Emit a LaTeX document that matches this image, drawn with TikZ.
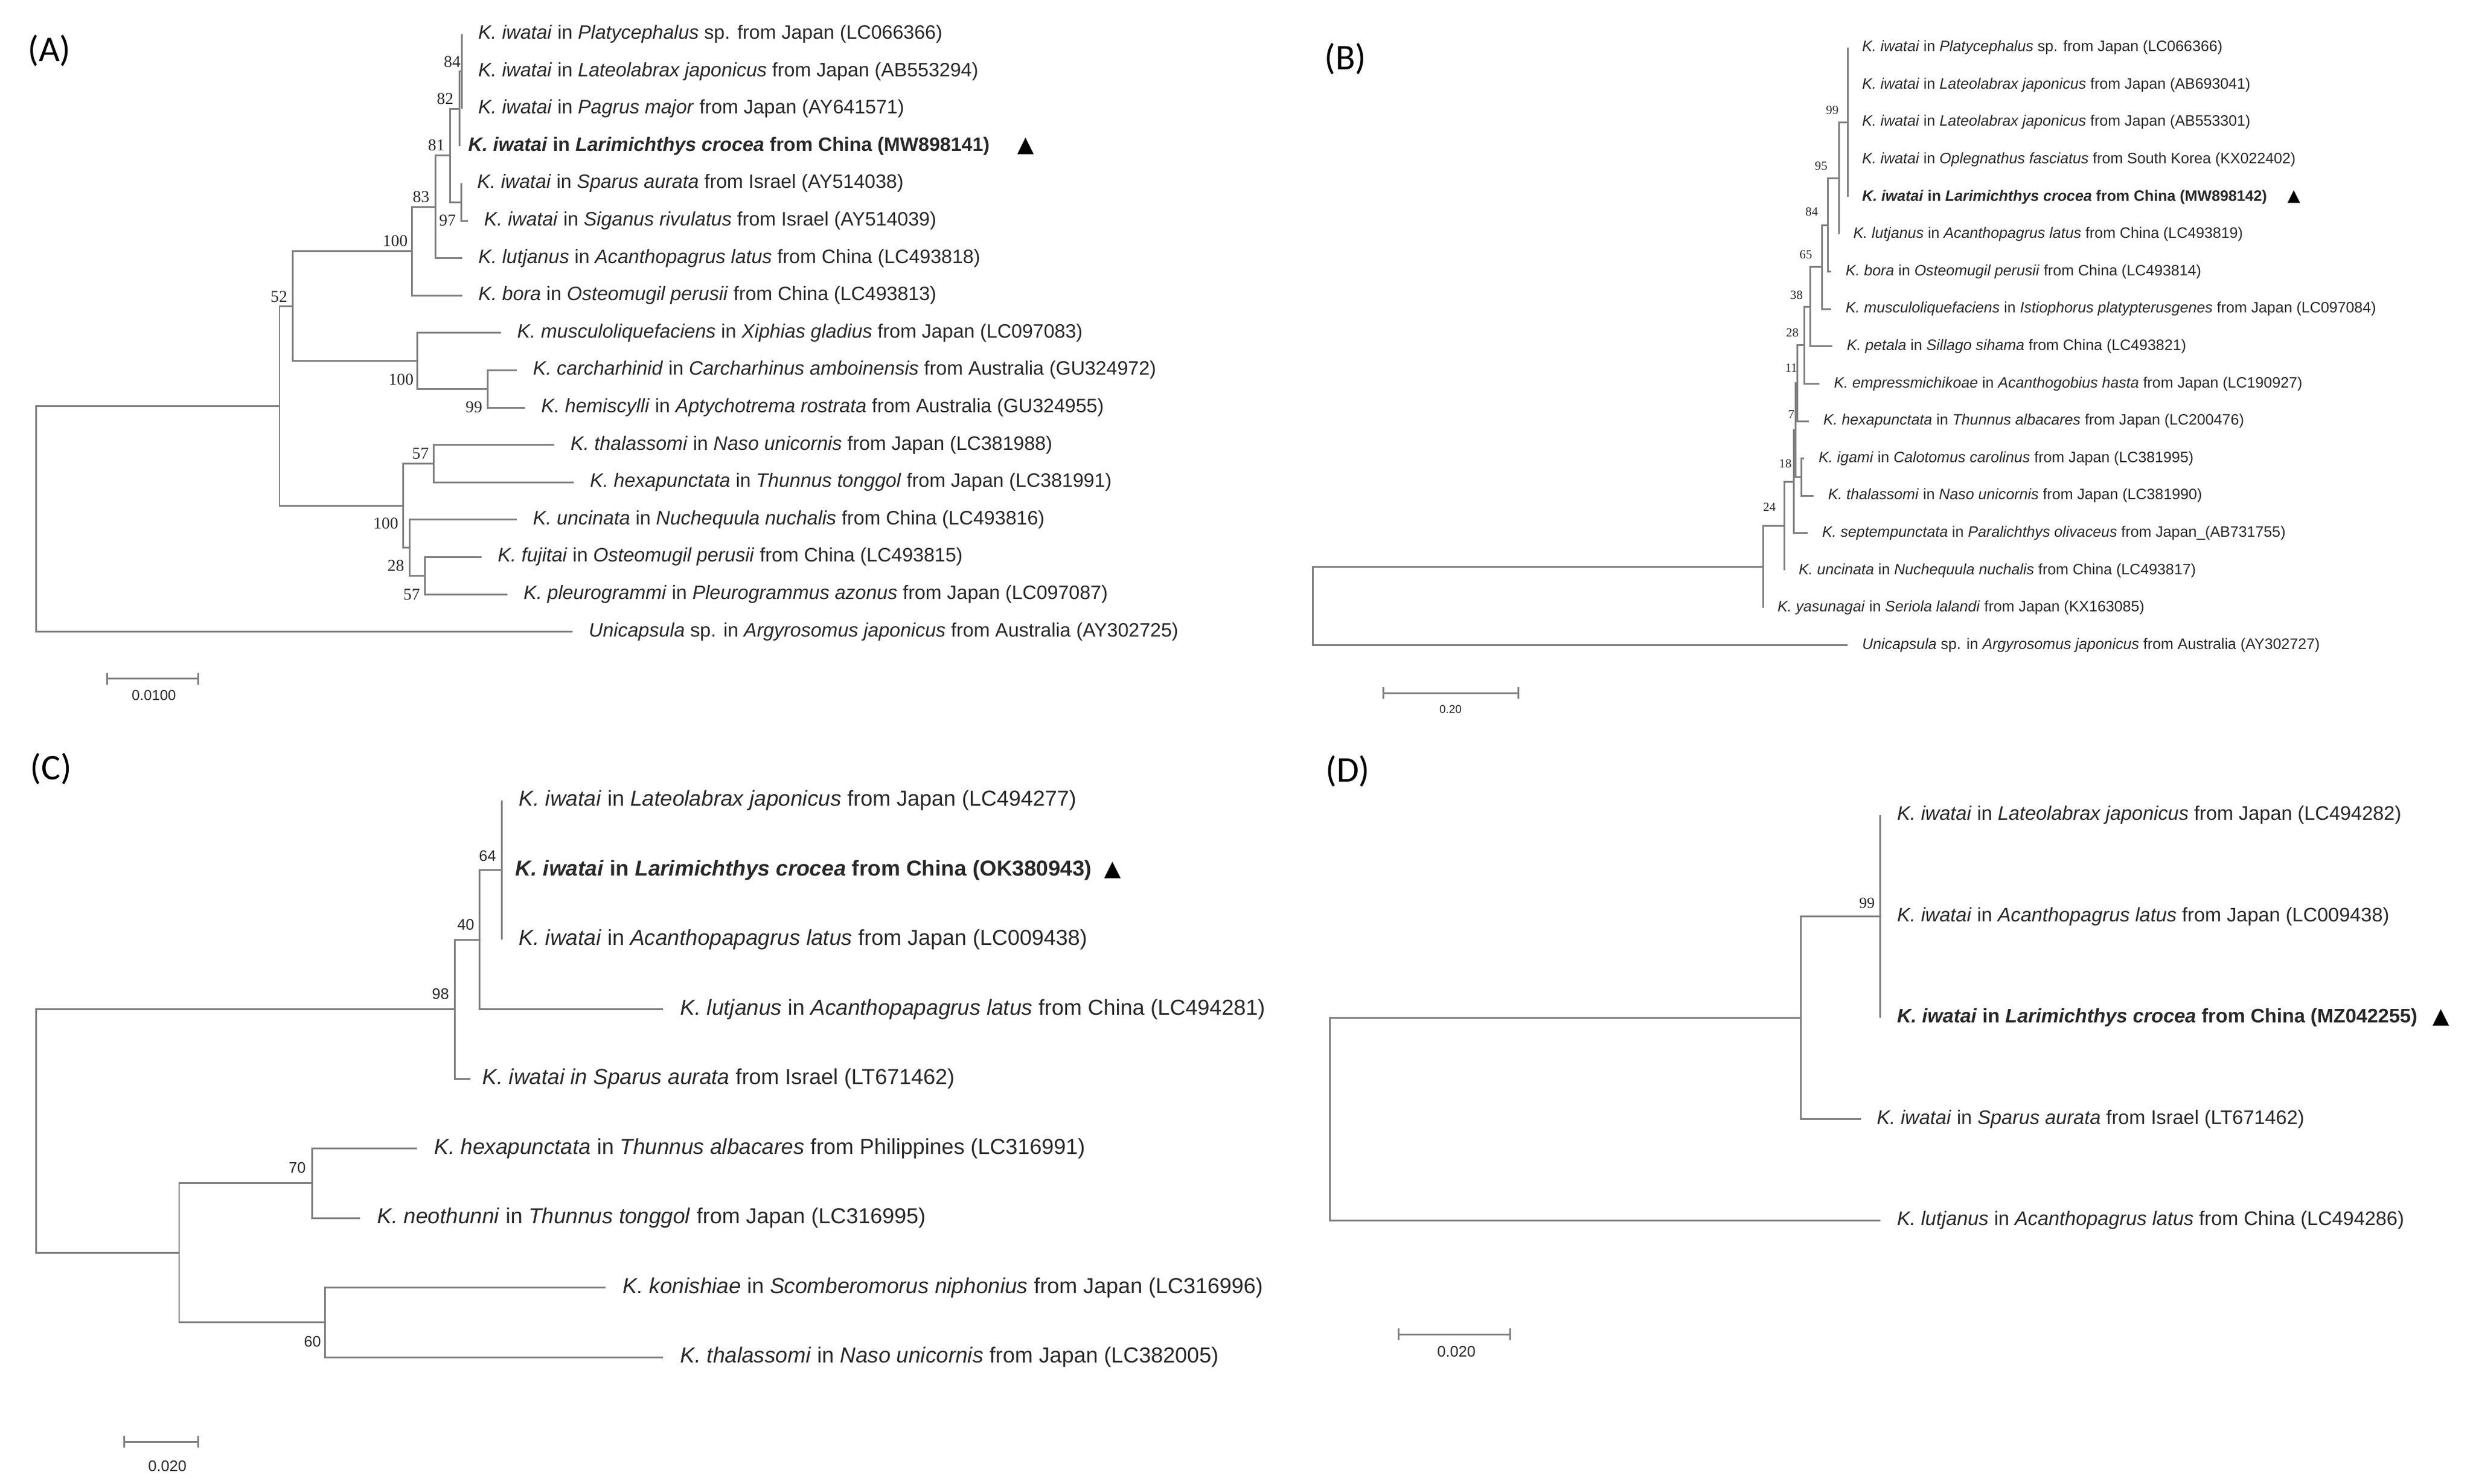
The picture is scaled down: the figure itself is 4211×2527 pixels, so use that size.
\documentclass[tikz,border=0pt]{standalone}
\usepackage{fontspec}
\setsansfont{Liberation Sans}
\newfontfamily\tnr{Liberation Serif}
\newfontfamily\panelfont{Carlito}
\newfontfamily\trifont{DejaVu Sans}
\usetikzlibrary{arrows.meta}
\definecolor{brgray}{RGB}{128,128,128}
\definecolor{txt}{RGB}{40,40,40}
\tikzset{
  br/.style={draw=brgray, line width=0.85pt},
  leaf/.style={anchor=west, inner ysep=0pt, text=txt},
  leafA/.style={leaf, inner xsep=0.27cm, font=\sffamily\fontsize{9.4}{11}\selectfont},
  leafB/.style={leaf, inner xsep=0.24cm, font=\sffamily\fontsize{7.3}{9}\selectfont},
  leafC/.style={leaf, inner xsep=0.29cm, font=\sffamily\fontsize{10.5}{12}\selectfont},
  leafD/.style={leaf, inner xsep=0.28cm, font=\sffamily\fontsize{9.5}{11}\selectfont},
  boot/.style={text=txt, inner sep=0pt},
  bootA/.style={boot, font=\tnr\fontsize{8}{9}\selectfont},
  bootB/.style={boot, font=\tnr\fontsize{6}{7}\selectfont},
  bootC/.style={boot, font=\sffamily\fontsize{7.4}{8}\selectfont},
  bootD/.style={boot, font=\tnr\fontsize{7.5}{8}\selectfont},
  panel/.style={inner sep=0pt, font=\panelfont\fontsize{17.5}{20}\selectfont},
  tri/.style={inner sep=0pt, font=\trifont\fontsize{10.5}{12}\selectfont},
  sbar/.style={br, {Bar[width=0.2cm]}-{Bar[width=0.2cm]}},
  sclab/.style={text=txt, inner sep=0pt, font=\sffamily\fontsize{7}{8}\selectfont},
}

\begin{document}
\begin{tikzpicture}[x=0.01cm, y=-0.01cm]
    \useasboundingbox (0,0) rectangle (4211,2527);
    %Panel letters
    \node[panel] (pA) at (84,86) {(A)};
    \node[panel] (pB) at (2291,100) {(B)};
    \node[panel] (pC) at (87,1309) {(C)};
    \node[panel] (pD) at (2295,1313) {(D)};

    %Tree A
    \begin{scope}[yshift=-0.05cm]
    \coordinate (Aroot) at (61.6,878.3);
    \coordinate (Ain) at (476,686);
    \coordinate (A52) at (498,516.1);
    \coordinate (A100a) at (701,422.7);
    \coordinate (A83) at (741,347.2);
    \coordinate (A81) at (766.7,259.7);
    \coordinate (A82) at (782.7,180.2);
    \coordinate (A84) at (786.7,116.6);
    \coordinate (A97) at (785,339.2);
    \coordinate (A100b) at (710,609.5);
    \coordinate (A99) at (830,657.2);
    \coordinate (A100c) at (686.7,856);
    \coordinate (A57a) at (738.3,784.4);
    \coordinate (A28) at (697.7,927.5);
    \coordinate (A57b) at (723.3,975.2);
    \node[leafA] (a1) at (786.7,53) {\textit{K. iwatai} in \textit{Platycephalus} sp. from Japan (LC066366)};
    \node[leafA] (a2) at (786.7,116.6) {\textit{K. iwatai} in \textit{Lateolabrax japonicus} from Japan (AB553294)};
    \node[leafA] (a3) at (786.7,180.2) {\textit{K. iwatai} in \textit{Pagrus major} from Japan (AY641571)};
    \node[leafA, inner xsep=0.14cm] (a4) at (782.7,243.8) {\bfseries\textit{K. iwatai} in \textit{Larimichthys crocea} from China (MW898141)};
    \node[leafA] (a5) at (785,307.4) {\textit{K. iwatai} in \textit{Sparus aurata} from Israel (AY514038)};
    \node[leafA] (a6) at (796.7,371) {\textit{K. iwatai} in \textit{Siganus rivulatus} from Israel (AY514039)};
    \node[leafA] (a7) at (787,434.6) {\textit{K. lutjanus} in \textit{Acanthopagrus latus} from China (LC493818)};
    \node[leafA] (a8) at (787,498.2) {\textit{K. bora} in \textit{Osteomugil perusii} from China (LC493813)};
    \node[leafA] (a9) at (853,561.8) {\textit{K. musculoliquefaciens} in \textit{Xiphias gladius} from Japan (LC097083)};
    \node[leafA] (a10) at (880,625.4) {\textit{K. carcharhinid} in \textit{Carcharhinus amboinensis} from Australia (GU324972)};
    \node[leafA] (a11) at (894,689) {\textit{K. hemiscylli} in \textit{Aptychotrema rostrata} from Australia (GU324955)};
    \node[leafA] (a12) at (944,752.6) {\textit{K. thalassomi} in \textit{Naso unicornis} from Japan (LC381988)};
    \node[leafA] (a13) at (977,816.2) {\textit{K. hexapunctata} in \textit{Thunnus tonggol} from Japan (LC381991)};
    \node[leafA] (a14) at (880,879.8) {\textit{K. uncinata} in \textit{Nuchequula nuchalis} from China (LC493816)};
    \node[leafA] (a15) at (820,943.4) {\textit{K. fujitai} in \textit{Osteomugil perusii} from China (LC493815)};
    \node[leafA] (a16) at (864,1007) {\textit{K. pleurogrammi} in \textit{Pleurogrammus azonus} from Japan (LC097087)};
    \node[leafA] (a17) at (975,1070.6) {\textit{Unicapsula} sp. in \textit{Argyrosomus japonicus} from Australia (AY302725)};
    \draw[br] (Aroot) |- (Ain) (Aroot) |- (a17.west);
    \draw[br] (Ain) |- (A52) (Ain) |- (A100c);
    \draw[br] (A52) |- (A100a) (A52) |- (A100b);
    \draw[br] (A100a) |- (A83) (A100a) |- (a8.west);
    \draw[br] (A83) |- (A81) (A83) |- (a7.west);
    \draw[br] (A81) |- (A82) (A81) |- (A97);
    \draw[br] (A82) |- (A84) (A82) |- (a4.west);
    \draw[br] (A84) |- (a1.west) (A84) |- (a3.west);
    \draw[br] (A97) |- (a5.west) (A97) |- (a6.west);
    \draw[br] (A100b) |- (a9.west) (A100b) |- (A99);
    \draw[br] (A99) |- (a10.west) (A99) |- (a11.west);
    \draw[br] (A100c) |- (A57a) (A100c) |- (A28);
    \draw[br] (A57a) |- (a12.west) (A57a) |- (a13.west);
    \draw[br] (A28) |- (a14.west) (A28) |- (A57b);
    \draw[br] (A57b) |- (a15.west) (A57b) |- (a16.west);
    \node[bootA] (lA84) at (770,100) {84};
    \node[bootA] (lA82) at (758,163) {82};
    \node[bootA] (lA81) at (743,242) {81};
    \node[bootA] (lA97) at (762,370) {97};
    \node[bootA] (lA83) at (717,330) {83};
    \node[bootA] (lA100a) at (673,405) {100};
    \node[bootA] (lA52) at (475,500) {52};
    \node[bootA] (lA100b) at (683,641) {100};
    \node[bootA] (lA99) at (807,688) {99};
    \node[bootA] (lA57a) at (716,767) {57};
    \node[bootA] (lA100c) at (657,886) {100};
    \node[bootA] (lA28) at (674,958) {28};
    \node[bootA] (lA57b) at (701,1007) {57};
    \node[tri] (tA) at (1747,243.8) {▲};
    \coordinate (sA1) at (181,1150.5);
    \coordinate (sA2) at (339,1150.5);
    \draw[sbar] (sA1) -- (sA2);
    \node[sclab] (kA) at (262,1179) {0.0100};
    \end{scope}

    %Tree B
    \begin{scope}[yshift=-0.04cm]
    \coordinate (Broot) at (2235,1028);
    \coordinate (Bin) at (3002,961.4);
    \coordinate (B24) at (3038,891.75);
    \coordinate (B18) at (3054,816.1);
    \coordinate (B7) at (3057,728.4);
    \coordinate (B11) at (3060,648.4);
    \coordinate (Bigth) at (3067,808.4);
    \coordinate (B28) at (3072,583.8);
    \coordinate (B38) at (3082,518.2);
    \coordinate (B65) at (3102,450.65);
    \coordinate (B84) at (3112,379.1);
    \coordinate (B95) at (3131,299.6);
    \coordinate (B99) at (3146,204.2);
    \node[leafB] (b1) at (3146,77) {\textit{K. iwatai} in \textit{Platycephalus} sp. from Japan (LC066366)};
    \node[leafB] (b2) at (3146,140.6) {\textit{K. iwatai} in \textit{Lateolabrax japonicus} from Japan (AB693041)};
    \node[leafB] (b3) at (3146,204.2) {\textit{K. iwatai} in \textit{Lateolabrax japonicus} from Japan (AB553301)};
    \node[leafB] (b4) at (3146,267.8) {\textit{K. iwatai} in \textit{Oplegnathus fasciatus} from South Korea (KX022402)};
    \node[leafB] (b5) at (3146,331.4) {\bfseries\textit{K. iwatai} in \textit{Larimichthys crocea} from China (MW898142)};
    \node[leafB] (b6) at (3131,395) {\textit{K. lutjanus} in \textit{Acanthopagrus latus} from China (LC493819)};
    \node[leafB] (b7) at (3118,458.6) {\textit{K. bora} in \textit{Osteomugil perusii} from China (LC493814)};
    \node[leafB] (b8) at (3118,522.2) {\textit{K. musculoliquefaciens} in \textit{Istiophorus platypterusgenes} from Japan (LC097084)};
    \node[leafB] (b9) at (3120,585.8) {\textit{K. petala} in \textit{Sillago sihama} from China (LC493821)};
    \node[leafB] (b10) at (3098,649.4) {\textit{K. empressmichikoae} in \textit{Acanthogobius hasta} from Japan (LC190927)};
    \node[leafB] (b11) at (3080,713) {\textit{K. hexapunctata} in \textit{Thunnus albacares} from Japan (LC200476)};
    \node[leafB] (b12) at (3072,776.6) {\textit{K. igami} in \textit{Calotomus carolinus} from Japan (LC381995)};
    \node[leafB] (b13) at (3088,840.2) {\textit{K. thalassomi} in \textit{Naso unicornis} from Japan (LC381990)};
    \node[leafB] (b14) at (3078,903.8) {\textit{K. septempunctata} in \textit{Paralichthys olivaceus} from Japan\_(AB731755)};
    \node[leafB] (b15) at (3038,967.4) {\textit{K. uncinata} in \textit{Nuchequula nuchalis} from China (LC493817)};
    \node[leafB] (b16) at (3002,1031) {\textit{K. yasunagai} in \textit{Seriola lalandi} from Japan (KX163085)};
    \node[leafB] (b17) at (3146,1094.6) {\textit{Unicapsula} sp. in \textit{Argyrosomus japonicus} from Australia (AY302727)};
    \draw[br] (Broot) |- (Bin) (Broot) |- (b17.west);
    \draw[br] (Bin) |- (B24) (Bin) |- (b16.west);
    \draw[br] (B24) |- (B18) (B24) |- (b15.west);
    \draw[br] (B18) |- (B7) (B18) |- (b14.west);
    \draw[br] (B7) |- (B11) (B7) |- (Bigth);
    \draw[br] (Bigth) |- (b12.west) (Bigth) |- (b13.west);
    \draw[br] (B11) |- (B28) (B11) |- (b11.west);
    \draw[br] (B28) |- (B38) (B28) |- (b10.west);
    \draw[br] (B38) |- (B65) (B38) |- (b9.west);
    \draw[br] (B65) |- (B84) (B65) |- (b8.west);
    \draw[br] (B84) |- (B95) (B84) |- (b7.west);
    \draw[br] (B95) |- (B99) (B95) |- (b6.west);
    \draw[br] (B99) |- (b1.west) (B99) |- (b5.west);
    \node[bootB] (lB99) at (3120,184) {99};
    \node[bootB] (lB95) at (3101,279) {95};
    \node[bootB] (lB84) at (3085,357) {84};
    \node[bootB] (lB65) at (3075,430) {65};
    \node[bootB] (lB38) at (3059,499) {38};
    \node[bootB] (lB28) at (3052,563) {28};
    \node[bootB] (lB11) at (3050,623) {11};
    \node[bootB] (lB7) at (3050,702) {7};
    \node[bootB] (lB18) at (3040,786) {18};
    \node[bootB] (lB24) at (3013,860) {24};
    \node[tri, font=\trifont\fontsize{8}{9}\selectfont] (tB) at (3906,331.4) {▲};
    \coordinate (sB1) at (2354,1176);
    \coordinate (sB2) at (2587,1176);
    \draw[sbar] (sB1) -- (sB2);
    \node[sclab, font=\sffamily\fontsize{5.5}{6}\selectfont] (kB) at (2470,1204) {0.20};
    \end{scope}

    %Tree C
    \coordinate (Croot) at (61.6,1925.9);
    \coordinate (C98) at (774,1718.5);
    \coordinate (C40) at (816.7,1600);
    \coordinate (C64) at (854,1481.5);
    \coordinate (Cin) at (305,2133.25);
    \coordinate (C70) at (531.6,2014.75);
    \coordinate (C60) at (553,2251.75);
    \node[leafC] (c1) at (854,1363) {\textit{K. iwatai} in \textit{Lateolabrax japonicus} from Japan (LC494277)};
    \node[leafC, inner xsep=0.23cm] (c2) at (854,1481.5) {\bfseries\textit{K. iwatai} in \textit{Larimichthys crocea} from China (OK380943)};
    \node[leafC] (c3) at (854,1600) {\textit{K. iwatai} in \textit{Acanthopapagrus latus} from Japan (LC009438)};
    \node[leafC] (c4) at (1129,1718.5) {\textit{K. lutjanus} in \textit{Acanthopapagrus latus} from China (LC494281)};
    \node[leafC, inner xsep=0.2cm] (c5) at (801,1837) {\textit{K. iwatai in Sparus aurata} from Israel (LT671462)};
    \node[leafC] (c6) at (709.7,1955.5) {\textit{K. hexapunctata} in \textit{Thunnus albacares} from Philippines (LC316991)};
    \node[leafC] (c7) at (613,2074) {\textit{K. neothunni} in \textit{Thunnus tonggol} from Japan (LC316995)};
    \node[leafC] (c8) at (1031,2192.5) {\textit{K. konishiae} in \textit{Scomberomorus niphonius} from Japan (LC316996)};
    \node[leafC] (c9) at (1129,2311) {\textit{K. thalassomi} in \textit{Naso unicornis} from Japan (LC382005)};
    \draw[br] (Croot) |- (C98) (Croot) |- (Cin);
    \draw[br] (C98) |- (C40) (C98) |- (c5.west);
    \draw[br] (C40) |- (C64) (C40) |- (c4.west);
    \draw[br] (C64) |- (c1.west) (C64) |- (c3.west);
    \draw[br] (Cin) |- (C70) (Cin) |- (C60);
    \draw[br] (C70) |- (c6.west) (C70) |- (c7.west);
    \draw[br] (C60) |- (c8.west) (C60) |- (c9.west);
    \node[bootC] (lC64) at (830,1458) {64};
    \node[bootC] (lC40) at (793,1575) {40};
    \node[bootC] (lC98) at (750,1693) {98};
    \node[bootC] (lC70) at (506,1989) {70};
    \node[bootC] (lC60) at (532,2285) {60};
    \node[tri] (tC) at (1895,1481.5) {▲};
    \coordinate (sC1) at (210,2455);
    \coordinate (sC2) at (339,2455);
    \draw[sbar] (sC1) -- (sC2);
    \node[sclab, font=\sffamily\fontsize{7.4}{8}\selectfont] (kC) at (285,2497) {0.020};

    %Tree D
    \coordinate (Droot) at (2264,1905.5);
    \coordinate (Din) at (3066,1733);
    \coordinate (D99) at (3201.5,1560.5);
    \node[leafD] (d1) at (3201.5,1388) {\textit{K. iwatai} in \textit{Lateolabrax japonicus} from Japan (LC494282)};
    \node[leafD] (d2) at (3201.5,1560.5) {\textit{K. iwatai} in \textit{Acanthopagrus latus} from Japan (LC009438)};
    \node[leafD] (d3) at (3201.5,1733) {\bfseries\textit{K. iwatai} in \textit{Larimichthys crocea} from China (MZ042255)};
    \node[leafD, inner xsep=0.26cm] (d4) at (3169,1905.5) {\textit{K. iwatai} in \textit{Sparus aurata} from Israel (LT671462)};
    \node[leafD] (d5) at (3201.5,2078) {\textit{K. lutjanus} in \textit{Acanthopagrus latus} from China (LC494286)};
    \draw[br] (Droot) |- (Din) (Droot) |- (d5.west);
    \draw[br] (Din) |- (D99) (Din) |- (d4.west);
    \draw[br] (D99) |- (d1.west) (D99) |- (d3.west);
    \node[bootD] (lD99) at (3179,1538) {99};
    \node[tri] (tD) at (4157,1733) {▲};
    \coordinate (sD1) at (2380,2272);
    \coordinate (sD2) at (2573,2272);
    \draw[sbar] (sD1) -- (sD2);
    \node[sclab, font=\sffamily\fontsize{7.4}{8}\selectfont] (kD) at (2480,2302) {0.020};
\end{tikzpicture}
\end{document}
